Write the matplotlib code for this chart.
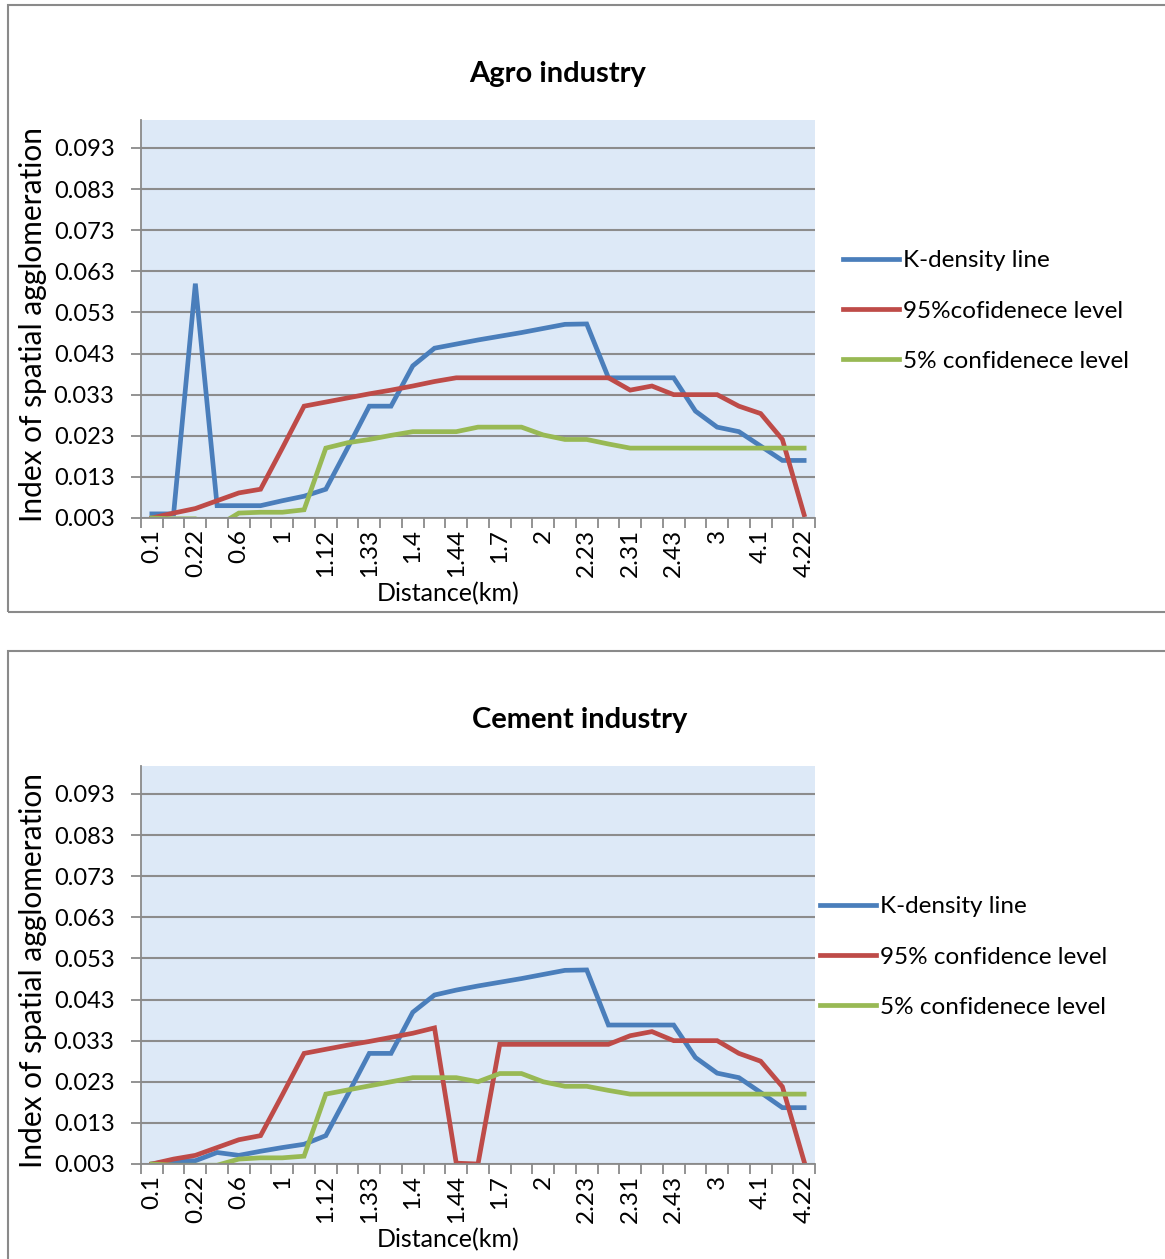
import matplotlib
matplotlib.use('Agg')
import matplotlib.pyplot as plt
from matplotlib.patches import Rectangle

plt.rcParams['font.family'] = ['Lato', 'DejaVu Sans']

# x categories (31 points, every other one is labelled)
x_labels = ['0.1', '0.22', '0.6', '1', '1.12', '1.33', '1.4', '1.44',
            '1.7', '2', '2.23', '2.31', '2.43', '3', '4.1', '4.22']
n_points = 31

# Agro industry
agro_k = [0.004, 0.004, 0.060, 0.006, 0.006, 0.006, 0.0072, 0.0083, 0.010, 0.020,
          0.0302, 0.0302, 0.040, 0.0443, 0.0453, 0.0463, 0.0472, 0.0481, 0.0491, 0.0501,
          0.0502, 0.0371, 0.0371, 0.0371, 0.0371, 0.029, 0.0251, 0.024, 0.0205, 0.017, 0.017]
agro_95 = [0.003, 0.0042, 0.0053, 0.0072, 0.0091, 0.010, 0.020, 0.0302, 0.0312, 0.0322,
           0.0332, 0.0341, 0.0351, 0.0362, 0.0371, 0.0371, 0.0371, 0.0371, 0.0371, 0.0371,
           0.0371, 0.0371, 0.0341, 0.0351, 0.033, 0.033, 0.033, 0.0302, 0.0284, 0.0221, 0.0038]
agro_5 = [0.003, 0.0028, 0.0028, 0.001, 0.0042, 0.0044, 0.0044, 0.005, 0.020, 0.0213,
          0.0221, 0.0231, 0.024, 0.024, 0.024, 0.0251, 0.0251, 0.0251, 0.0232, 0.0221,
          0.0221, 0.021, 0.020, 0.020, 0.020, 0.020, 0.020, 0.020, 0.020, 0.020, 0.020]

# Cement industry
cement_k = [0.003, 0.0038, 0.0038, 0.0058, 0.0051, 0.0061, 0.007, 0.0078, 0.0099, 0.0198,
            0.0299, 0.0299, 0.0399, 0.0441, 0.0453, 0.0463, 0.0472, 0.0481, 0.0491, 0.0501,
            0.0502, 0.0368, 0.0368, 0.0368, 0.0368, 0.0289, 0.0251, 0.024, 0.0204, 0.0167, 0.0167]
cement_95 = [0.003, 0.0042, 0.0051, 0.007, 0.0089, 0.0099, 0.0198, 0.0299, 0.0309, 0.0319,
             0.0328, 0.0338, 0.0348, 0.0361, 0.0032, 0.003, 0.0321, 0.0321, 0.0321, 0.0321,
             0.0321, 0.0321, 0.0342, 0.0352, 0.033, 0.033, 0.033, 0.0299, 0.028, 0.0218, 0.0036]
cement_5 = [0.003, 0.0027, 0.0027, 0.0027, 0.0042, 0.0045, 0.0045, 0.0049, 0.020, 0.021,
            0.022, 0.023, 0.024, 0.024, 0.024, 0.023, 0.025, 0.025, 0.023, 0.0219,
            0.0219, 0.0209, 0.020, 0.020, 0.020, 0.020, 0.020, 0.020, 0.020, 0.020, 0.020]

y_ticks = [0.003, 0.013, 0.023, 0.033, 0.043, 0.053, 0.063, 0.073, 0.083, 0.093]

W, H = 1165, 1259
fig = plt.figure(figsize=(W / 100, H / 100), dpi=100)

blue, red, green = '#4a7ebb', '#be4b48', '#98b954'


def px(x0, y0, x1, y1):
    # pixel box (top-left origin) -> figure fraction rect
    return [x0 / W, 1 - y1 / H, (x1 - x0) / W, (y1 - y0) / H]


def draw_panel(top, bottom, title, title_x, k, c95, c5, names, leg_x):
    # outer chart frame
    fig.patches.append(Rectangle((8 / W, 1 - bottom / H), (W + 10) / W, (bottom - top) / H,
                                 transform=fig.transFigure, fill=False,
                                 edgecolor='#8a8a8a', lw=1.5))
    ax = fig.add_axes(px(141, top + 115, 815, top + 513))
    ax.set_facecolor('#dde9f7')
    xs = list(range(n_points))
    ax.plot(xs, k, color=blue, lw=3.4, label=names[0], solid_joinstyle='miter')
    ax.plot(xs, c95, color=red, lw=3.4, label=names[1], solid_joinstyle='miter')
    ax.plot(xs, c5, color=green, lw=3.4, label=names[2], solid_joinstyle='miter')
    ax.set_xlim(-0.5, n_points - 0.5)
    ax.set_ylim(0.003, 0.0998)
    ax.set_yticks(y_ticks)
    ax.set_yticklabels(['%.3f' % v for v in y_ticks], fontsize=17)
    ax.yaxis.grid(True, color='#8c8c8c', lw=1.5)
    ax.set_axisbelow(True)
    ax.set_xticks([i - 0.5 for i in range(n_points + 1)])
    ax.set_xticklabels([])
    ax.set_xticks(list(range(0, n_points, 2)), minor=True)
    ax.set_xticklabels(x_labels, minor=True, rotation=90, fontsize=17.5)
    ax.tick_params(axis='x', which='major', length=7, width=1.3, color='#8a8a8a')
    ax.tick_params(axis='x', which='minor', length=0, pad=8)
    ax.tick_params(axis='y', length=7, width=1.3, color='#8a8a8a', pad=12)
    for s in ['top', 'right']:
        ax.spines[s].set_visible(False)
    for s in ['left', 'bottom']:
        ax.spines[s].set_color('#8a8a8a')
        ax.spines[s].set_linewidth(1.3)
    fig.text(title_x / W, 1 - (top + 69) / H, title, fontsize=21, fontweight='bold',
             ha='center', va='center')
    fig.text(33 / W, 1 - (top + 320) / H, 'Index of spatial agglomeration', fontsize=21.5,
             rotation=90, ha='center', va='center')
    fig.text(448 / W, 1 - (top + 589) / H, 'Distance(km)', fontsize=18,
             ha='center', va='center')
    ax.legend(loc='center left', bbox_to_anchor=(leg_x / W, 1 - (top + 306) / H),
              bbox_transform=fig.transFigure, frameon=False, fontsize=17.5,
              handlelength=2.3, handletextpad=0.15, labelspacing=1.2, borderpad=0,
              borderaxespad=0)
    return ax


draw_panel(5, 612, 'Agro industry', 558, agro_k, agro_95, agro_5,
           ['K-density line', '95%cofidenece level', '5% confidenece level'], 843)
draw_panel(651, 1275, 'Cement industry', 580, cement_k, cement_95, cement_5,
           ['K-density line', '95% confidence level', '5% confidenece level'], 820)

fig.savefig('out.png', dpi=100)
